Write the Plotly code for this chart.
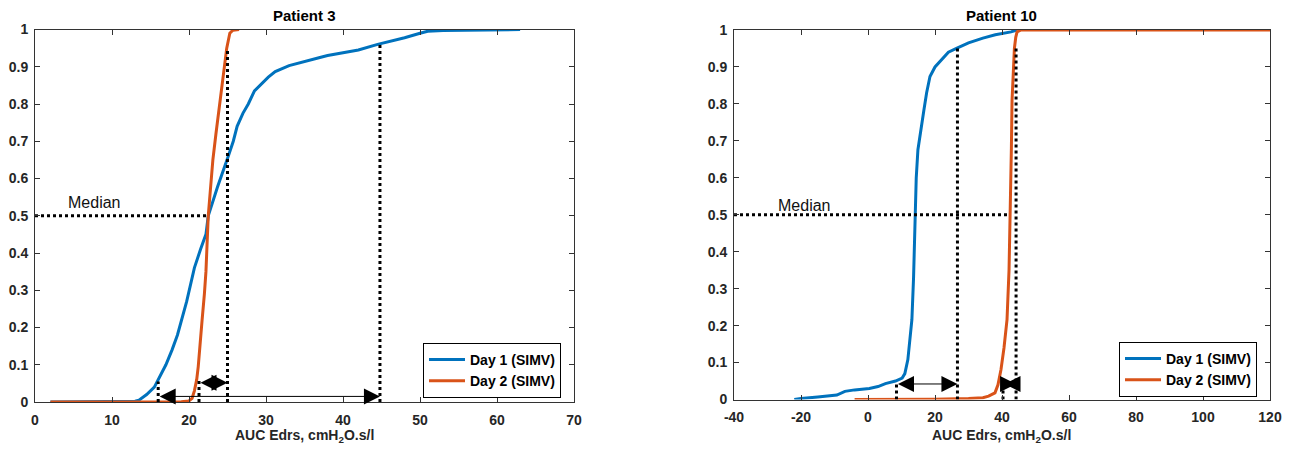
import plotly.graph_objects as go

# ---------------- data ----------------
# Patient 3 — empirical CDFs
p3_day1_x = [2, 5, 10, 13, 13.5, 14.5, 15.5, 16, 17, 17.8, 18.5, 19.7, 20.7, 21.5, 22.2, 22.5, 23.7, 25.1,
             25.75, 26.25, 27.0, 27.7, 28.5, 30.3, 31.2, 33, 35, 37, 38, 40.1, 42, 44.5, 46, 48, 50, 51, 53, 55,
             60, 63]
p3_day1_y = [0, 0, 0, 0.002, 0.005, 0.02, 0.04, 0.06, 0.1, 0.14, 0.18, 0.27, 0.36, 0.41, 0.45, 0.5, 0.577, 0.66,
             0.70, 0.74, 0.775, 0.80, 0.835, 0.872, 0.887, 0.903, 0.915, 0.925, 0.93, 0.937, 0.945, 0.96, 0.967,
             0.978, 0.99, 0.995, 0.997, 0.998, 1.0, 1.0]
p3_day2_x = [2, 10, 15, 19, 20, 20.4, 20.7, 21.0, 21.2, 21.5, 21.7, 22.0, 22.2, 22.5, 22.8, 23.1, 23.5, 24.0,
             24.5, 24.9, 25.3, 25.7, 26.5]
p3_day2_y = [0, 0, 0, 0.001, 0.003, 0.01, 0.03, 0.06, 0.095, 0.16, 0.22, 0.29, 0.35, 0.5, 0.58, 0.65, 0.72, 0.8,
             0.88, 0.95, 0.99, 0.998, 1.0]
p3_median = 22.5
p3_q_x = [16, 21.3, 25, 44.8]          # 5th / 95th percentile markers
p3_q_top = [0.055, 0.058, 0.95, 0.96]
p3_range_arrows = [(16, 44.8, 0.015), (21.3, 25, 0.052)]
p3_median_label = (7.6, 0.535)

# Patient 10 — empirical CDFs
p10_day1_x = [-22, -20, -15, -10, -9.3, -6.9, -4, 0.4, 3, 5.2, 8.2, 10.2, 11, 11.9, 12.5, 13.1, 13.6, 14,
              14.4, 14.9, 15.7, 16.7, 17.5, 18.5, 20, 22.2, 24, 26.4, 30, 34.3, 38, 42.7, 44.5]
p10_day1_y = [0, 0.003, 0.007, 0.01, 0.012, 0.022, 0.026, 0.03, 0.035, 0.043, 0.05, 0.058, 0.07, 0.108, 0.16,
              0.216, 0.33, 0.5, 0.6, 0.676, 0.73, 0.784, 0.83, 0.874, 0.9, 0.923, 0.94, 0.95, 0.965, 0.978,
              0.987, 0.995, 1.0]
p10_day2_x = [-4, 10, 20, 30, 34.3, 36, 37.9, 38.8, 39.7, 40.6, 41.5, 42.1, 42.5, 42.8, 43.0, 43.4, 43.7,
              44.1, 44.5, 45.7, 60, 80, 100, 120]
p10_day2_y = [0, 0, 0.001, 0.003, 0.005, 0.009, 0.018, 0.04, 0.081, 0.14, 0.216, 0.35, 0.5, 0.68, 0.81, 0.9,
              0.95, 0.98, 0.995, 1.0, 1.0, 1.0, 1.0, 1.0]
p10_median = 42.3
p10_q_x = [8.5, 26.7, 40.3, 44.2]
p10_q_top = [0.048, 0.955, 0.05, 0.955]
p10_range_arrows = [(8.5, 26.7, 0.042), (40.3, 44.2, 0.042)]
p10_median_label = (-19.1, 0.525)

y_ticks = [0, 0.1, 0.2, 0.3, 0.4, 0.5, 0.6, 0.7, 0.8, 0.9, 1]
y_tick_labels = ["0", "0.1", "0.2", "0.3", "0.4", "0.5", "0.6", "0.7", "0.8", "0.9", "1"]
p3_x_ticks = [0, 10, 20, 30, 40, 50, 60, 70]
p3_x_tick_labels = ["0", "10", "20", "30", "40", "50", "60", "70"]
p10_x_ticks = [-40, -20, 0, 20, 40, 60, 80, 100, 120]
p10_x_tick_labels = ["-40", "-20", "0", "20", "40", "60", "80", "100", "120"]
series_names = ["Day 1 (SIMV)", "Day 2 (SIMV)"]
titles = ["Patient 3", "Patient 10"]
x_title = "AUC Edrs, cmH<sub>2</sub>O.s/l"

# ---------------- styling ----------------
BLUE = "#0072BD"
ORANGE = "#D95319"
W, H = 1294, 455
FONT = "Liberation Sans, Arial, sans-serif"
TXT = "#262626"
AX = "#333333"

fig = go.Figure()

panels = [
    dict(xa="x", ya="y", legend="legend", d1=(p3_day1_x, p3_day1_y), d2=(p3_day2_x, p3_day2_y),
         med=p3_median, qx=p3_q_x, qt=p3_q_top, arrows=p3_range_arrows, ml=p3_median_label, x0=0),
    dict(xa="x2", ya="y2", legend="legend2", d1=(p10_day1_x, p10_day1_y), d2=(p10_day2_x, p10_day2_y),
         med=p10_median, qx=p10_q_x, qt=p10_q_top, arrows=p10_range_arrows, ml=p10_median_label, x0=-40),
]

annotations = []
for p in panels:
    for (xs, ys), name, col in zip([p["d1"], p["d2"]], series_names, [BLUE, ORANGE]):
        fig.add_trace(go.Scatter(x=xs, y=ys, mode="lines", name=name, line=dict(color=col, width=3),
                                 xaxis=p["xa"], yaxis=p["ya"], legend=p["legend"], hoverinfo="skip"))
    # median line
    fig.add_trace(go.Scatter(x=[p["x0"], p["med"]], y=[0.5, 0.5], mode="lines", showlegend=False,
                             line=dict(color="black", width=3, dash="dot"), xaxis=p["xa"], yaxis=p["ya"],
                             hoverinfo="skip"))
    # percentile lines
    for qx, qt in zip(p["qx"], p["qt"]):
        fig.add_trace(go.Scatter(x=[qx, qx], y=[0, qt], mode="lines", showlegend=False,
                                 line=dict(color="black", width=3, dash="dot"), xaxis=p["xa"], yaxis=p["ya"],
                                 hoverinfo="skip"))
    # double-headed arrows
    for (a, b, yv) in p["arrows"]:
        annotations.append(dict(x=b, y=yv, ax=a, ay=yv, xref=p["xa"], yref=p["ya"], axref=p["xa"],
                                ayref=p["ya"], text="", showarrow=True, arrowhead=2, startarrowhead=2,
                                arrowside="end+start", arrowsize=3.2, startarrowsize=3.2, arrowwidth=1,
                                arrowcolor="black"))
    annotations.append(dict(x=p["ml"][0], y=p["ml"][1], xref=p["xa"], yref=p["ya"], text="Median",
                            showarrow=False, font=dict(family=FONT, size=16, color="#111")))

# plot area geometry (paper fractions)
dom1 = [35 / W, 574 / W]
dom2 = [734 / W, 1270 / W]
ydom1 = [1 - 402 / H, 1 - 29.5 / H]
ydom2 = [1 - 399.5 / H, 1 - 30 / H]

for dom, t in zip([dom1, dom2], titles):
    cx = (dom[0] + dom[1]) / 2
    annotations.append(dict(x=cx, y=1 - 16 / H, xref="paper", yref="paper", text=t,
                            showarrow=False, font=dict(family=FONT, size=15, color="black", weight="bold"),
                            xanchor="center", yanchor="middle"))
    annotations.append(dict(x=cx, y=1 - 436 / H, xref="paper", yref="paper", text=x_title,
                            showarrow=False, font=dict(family=FONT, size=14, color=TXT, weight="bold"),
                            xanchor="center", yanchor="middle"))

axis_common = dict(showgrid=False, zeroline=False, showline=True, linecolor=AX, linewidth=1, mirror="allticks",
                   ticks="inside", ticklen=5, tickcolor=AX, tickwidth=1, automargin=False,
                   tickfont=dict(family=FONT, size=14, color=TXT, weight="bold"))

legend_common = dict(bgcolor="white", bordercolor="black", borderwidth=1,
                     font=dict(family=FONT, size=14, color="black", weight="bold"), xanchor="left",
                     yanchor="top", tracegroupgap=0, itemwidth=36)

fig.update_layout(
    width=W, height=H, margin=dict(l=0, r=0, t=0, b=0, autoexpand=False),
    paper_bgcolor="white", plot_bgcolor="white",
    xaxis=dict(domain=dom1, range=[0, 70], tickvals=p3_x_ticks, ticktext=p3_x_tick_labels, anchor="y",
               ticklabelstandoff=5, **axis_common),
    yaxis=dict(domain=ydom1, range=[0, 1], tickvals=y_ticks, ticktext=y_tick_labels, anchor="x",
               ticklabelstandoff=3, **axis_common),
    xaxis2=dict(domain=dom2, range=[-40, 120], tickvals=p10_x_ticks, ticktext=p10_x_tick_labels, anchor="y2",
                ticklabelstandoff=5, **axis_common),
    yaxis2=dict(domain=ydom2, range=[0, 1], tickvals=y_ticks, ticktext=y_tick_labels, anchor="x2",
                ticklabelstandoff=3, **axis_common),
    legend=dict(x=423 / W, y=1 - 343 / H, **legend_common),
    legend2=dict(x=1119 / W, y=1 - 342 / H, **legend_common),
    annotations=annotations,
    showlegend=True,
)

fig.write_html("out.html", config={"displayModeBar": False},
               post_script="document.body.style.margin='0px';document.body.style.overflow='hidden';")
